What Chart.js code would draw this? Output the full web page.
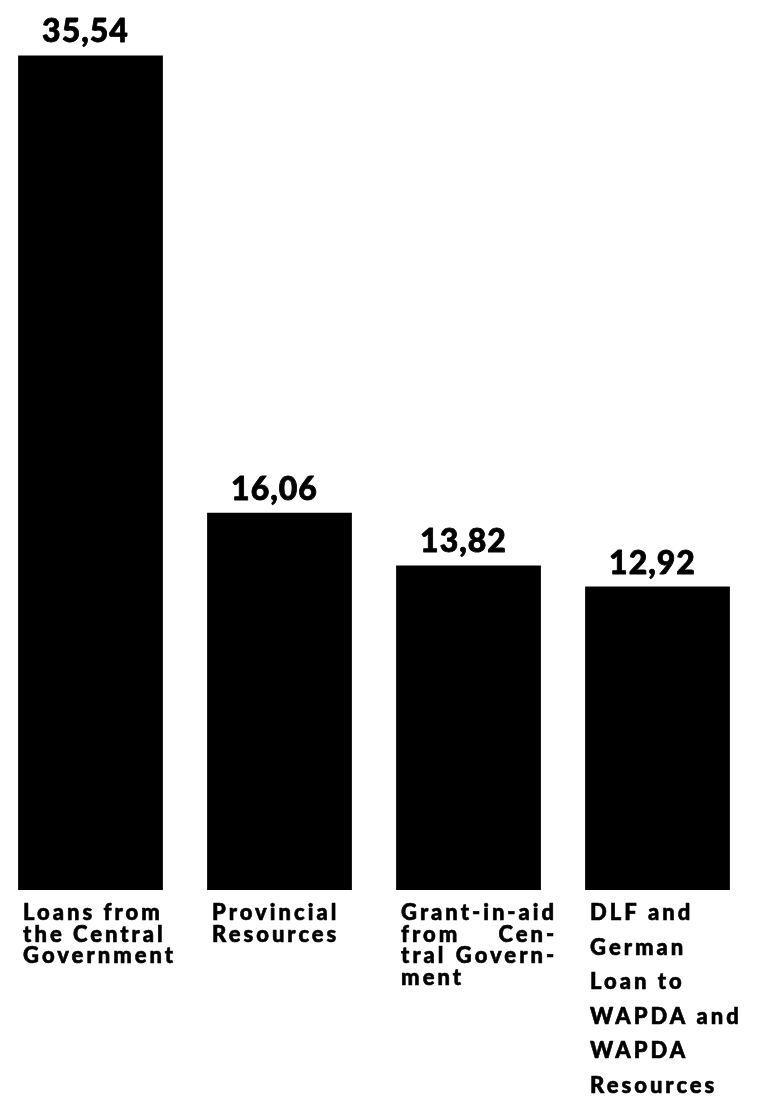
<!DOCTYPE html>
<html>
<head>
<meta charset="utf-8">
<script src="https://cdn.jsdelivr.net/npm/chart.js@4/dist/chart.umd.min.js"></script>
<style>
  html, body { margin: 0; padding: 0; background: #fff; overflow: hidden; }
  #wrap { position: absolute; left: -4px; top: 0; width: 764px; height: 1097px; }
</style>
</head>
<body>
<div id="wrap"><canvas id="chart"></canvas></div>
<script>
  // Values as printed above the bars (comma is the decimal mark in the original)
  var values = [35.54, 16.06, 13.82, 12.92];
  var valueLabels = ['35,54', '16,06', '13,82', '12,92'];

  // Category captions, one entry per printed line
  var categoryLines = [
    ['Loans from', 'the Central', 'Government'],
    ['Provincial', 'Resources'],
    ['Grant-in-aid', 'from Cen-', 'tral Govern-', 'ment'],
    ['DLF and', 'German', 'Loan to', 'WAPDA and', 'WAPDA', 'Resources']
  ];
  // the third caption is set justified in the original
  var justified = [false, false, true, false];

  var INK = '#000';
  var FONT = 'Lato, "Open Sans", sans-serif';

  // Draws the value above each bar and the caption block below it,
  // using the bar elements laid out by Chart.js.
  var printedLabels = {
    id: 'printedLabels',
    afterDatasetsDraw: function (chart) {
      var ctx = chart.ctx;
      var meta = chart.getDatasetMeta(0);

      ctx.save();
      ctx.fillStyle = INK;
      ctx.strokeStyle = INK;
      ctx.lineJoin = 'round';

      function put(t, x, y) {
        ctx.fillText(t, x, y);
        ctx.strokeText(t, x, y);
      }

      meta.data.forEach(function (bar, i) {
        var left = bar.x - bar.width / 2;

        // value on top
        ctx.font = '900 32px ' + FONT;
        ctx.letterSpacing = '1px';
        ctx.textAlign = 'center';
        ctx.textBaseline = 'alphabetic';
        ctx.lineWidth = 0.8;
        put(valueLabels[i], bar.x - 5, bar.y - 13);

        // caption underneath
        var lines = categoryLines[i];
        var lineH = lines.length > 4 ? 34.5 : 21.5;
        ctx.font = '900 22px ' + FONT;
        ctx.letterSpacing = '3px';
        ctx.textAlign = 'left';
        ctx.lineWidth = 0.6;

        var blockW = 0;
        lines.forEach(function (t) { blockW = Math.max(blockW, ctx.measureText(t).width); });

        lines.forEach(function (t, j) {
          var y = bar.base + 30 + j * lineH;
          var words = t.split(' ');
          if (justified[i] && j < lines.length - 1 && words.length > 1) {
            put(words[0], left + 5, y);
            ctx.textAlign = 'right';
            put(words.slice(1).join(' '), left + 5 + blockW, y);
            ctx.textAlign = 'left';
          } else {
            put(t, left + 5, y);
          }
        });
      });

      ctx.restore();
    }
  };

  new Chart(document.getElementById('chart'), {
    type: 'bar',
    data: {
      labels: categoryLines.map(function (l) { return l.join(' '); }),
      datasets: [{
        data: values,
        backgroundColor: INK,
        borderWidth: 0,
        categoryPercentage: 1,
        barPercentage: 0.766
      }]
    },
    options: {
      responsive: true,
      maintainAspectRatio: false,
      animation: false,
      layout: { padding: { top: 0, right: 8, bottom: 207, left: 0 } },
      plugins: {
        legend: { display: false },
        tooltip: { enabled: false }
      },
      scales: {
        x: { display: false, offset: true },
        y: { display: false, min: 0, max: 37.9 }
      }
    },
    plugins: [printedLabels]
  });
</script>
</body>
</html>
